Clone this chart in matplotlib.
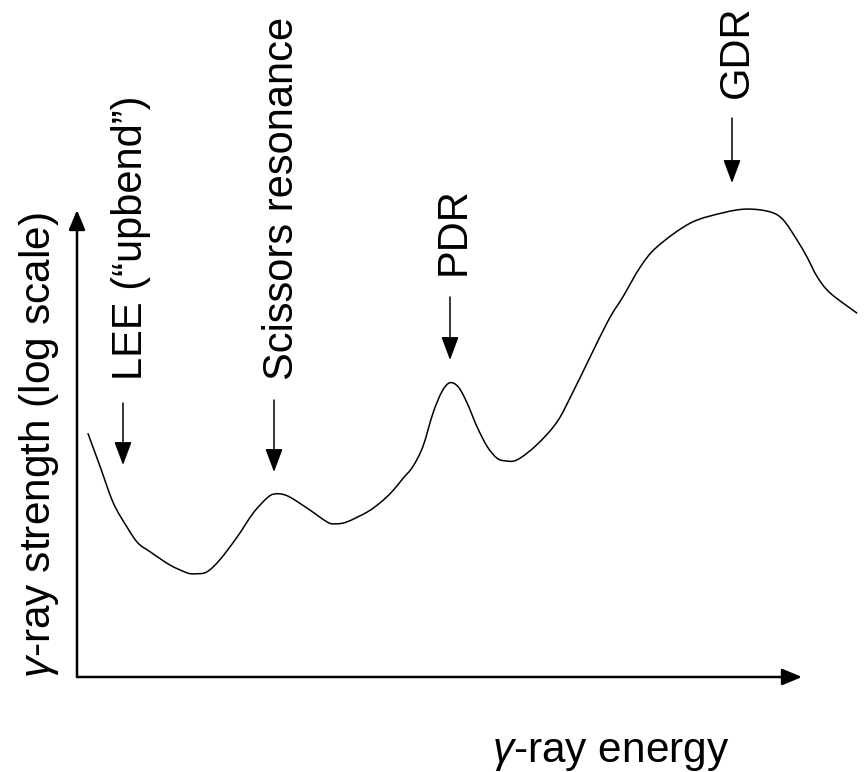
import numpy as np
import matplotlib
matplotlib.use("Agg")
import matplotlib.pyplot as plt
from matplotlib.path import Path
from matplotlib.patches import PathPatch

plt.rcParams['font.family'] = ['Liberation Sans', 'DejaVu Sans']
plt.rcParams['mathtext.fontset'] = 'custom'
plt.rcParams['mathtext.rm'] = 'Liberation Sans'
plt.rcParams['mathtext.it'] = 'Liberation Sans:italic'

# Schematic gamma-ray strength function (arbitrary units)
energy = [0.15, 0.32, 0.50, 0.69, 0.84, 1.01, 1.28, 1.52, 1.63, 1.79,
          1.97, 2.21, 2.43, 2.62, 2.73, 2.90, 3.17, 3.45, 3.56, 3.72,
          4.00, 4.18, 4.34, 4.50, 4.63, 4.77, 4.91, 5.03, 5.14, 5.26,
          5.38, 5.52, 5.66, 5.79, 5.90, 6.07, 6.34, 6.62, 6.84, 7.31,
          7.53, 7.77, 8.00, 8.46, 8.91, 9.24, 9.56, 9.74, 9.93, 10.07,
          10.21, 10.39, 10.76]
strength = [5.22, 4.50, 3.73, 3.21, 2.87, 2.68, 2.40, 2.23, 2.21, 2.25,
            2.51, 3.00, 3.51, 3.83, 3.92, 3.88, 3.62, 3.32, 3.28, 3.32,
            3.53, 3.73, 3.96, 4.26, 4.50, 4.93, 5.65, 6.10, 6.30, 6.21,
            5.87, 5.35, 4.93, 4.69, 4.63, 4.65, 4.97, 5.46, 6.10, 7.58,
            8.14, 8.78, 9.21, 9.72, 9.94, 10.02, 9.96, 9.79, 9.36, 8.99,
            8.57, 8.22, 7.79]

features = ['LEE (“upbend”)', 'Scissors resonance', 'PDR', 'GDR']


def smooth_path(x, y):
    # Catmull-Rom through the points, written as cubic Bezier segments
    p = np.column_stack([x, y])
    ext = np.vstack([p[0], p, p[-1]])
    verts = [p[0]]
    codes = [Path.MOVETO]
    for i in range(1, len(ext) - 2):
        p0, p1, p2, p3 = ext[i - 1], ext[i], ext[i + 1], ext[i + 2]
        verts += [p1 + (p2 - p0) / 6, p2 - (p3 - p1) / 6, p2]
        codes += [Path.CURVE4] * 3
    return Path(verts, codes)


W, H = 864, 772
fig = plt.figure(figsize=(W / 100, H / 100), dpi=100)
ax = fig.add_axes([77 / W, 95 / H, 725 / W, 467 / H])
ax.set_xlim(0, 10)
ax.set_ylim(0, 10)
ax.axis('off')

ax.add_patch(PathPatch(smooth_path(energy, strength), facecolor='none',
                       edgecolor='black', lw=1.1, clip_on=False))

# axes drawn as arrows
axis_arrow = dict(arrowstyle='-|>,head_length=1.2,head_width=0.5',
                  mutation_scale=10, lw=1.8, color='black',
                  shrinkA=0, shrinkB=0)
ax.annotate('', xy=(1, 0), xytext=(0, 0), xycoords='axes fraction',
            arrowprops=axis_arrow)
ax.annotate('', xy=(0, 1), xytext=(0, 0), xycoords='axes fraction',
            arrowprops=axis_arrow)


def px(x, y):
    return x / W, 1 - y / H


fig.text(*px(492, 762), r'$\gamma$-ray energy', fontsize=30.5,
         ha='left', va='baseline')
fig.text(*px(50, 678), r'$\gamma$-ray strength (log scale)', fontsize=30.5,
         rotation=90, rotation_mode='anchor', ha='left', va='baseline')

# feature labels with downward arrows
label_pos = [(142, 380), (293, 380), (465, 275), (748, 98)]
arrow_pos = [(123, 403, 465), (274, 400, 472), (450, 297, 360), (732, 118, 183)]
feat_arrow = dict(arrowstyle='-|>,head_length=1.2,head_width=0.45',
                  mutation_scale=12, lw=1.1, color='black',
                  shrinkA=0, shrinkB=0)
for name, (tx, ty), (ax_x, y0, y1) in zip(features, label_pos, arrow_pos):
    fig.text(*px(tx, ty), name, fontsize=30, rotation=90,
             rotation_mode='anchor', ha='left', va='baseline')
    ax.annotate('', xy=px(ax_x, y1), xytext=px(ax_x, y0),
                xycoords='figure fraction', textcoords='figure fraction',
                arrowprops=feat_arrow)

fig.savefig('out.png', dpi=100)
